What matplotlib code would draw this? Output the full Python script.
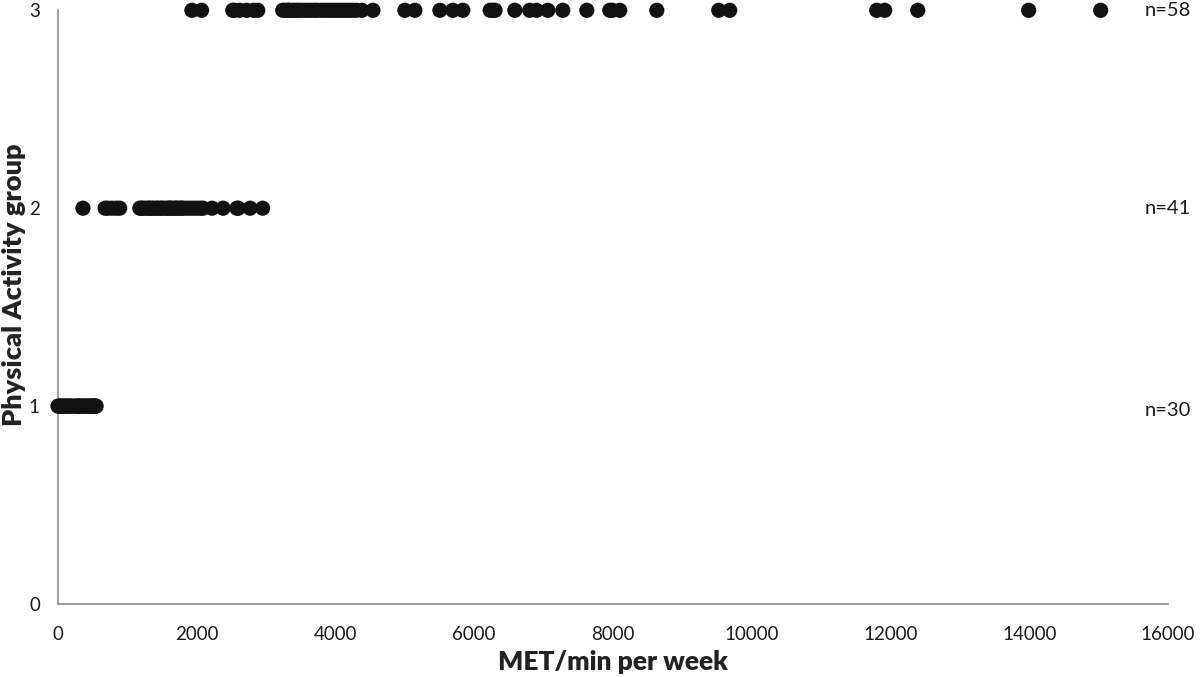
import numpy as np
import matplotlib
matplotlib.use("Agg")
import matplotlib.pyplot as plt

plt.rcParams['font.family'] = ['Lato', 'DejaVu Sans']

# MET/min per week for each participant, by physical activity group
group1_met = [0, 20, 40, 60, 80, 100, 120, 140, 160, 180, 200, 240, 260, 280, 300,
              320, 330, 360, 380, 400, 420, 440, 460, 480, 495, 510, 520, 530, 540, 550]
group2_met = [360, 680, 720, 780, 840, 890,
              1180, 1200, 1220, 1260, 1300, 1320, 1350, 1380, 1420, 1440, 1480, 1500,
              1540, 1580, 1600, 1620, 1640, 1680, 1700, 1720, 1760, 1780, 1800, 1850,
              1900, 1950, 2000, 2050, 2090, 2220, 2380, 2580, 2600, 2770, 2950]
group3_met = [1930, 2070, 2520, 2540, 2620, 2720, 2820, 2880,
              3240, 3280, 3320, 3330, 3380, 3420, 3460, 3500, 3550, 3600, 3650, 3700,
              3740, 3800, 3850, 3900, 3950, 4000, 4050, 4100, 4150, 4200, 4250, 4300,
              4380, 4540, 5000, 5145, 5505, 5692, 5836, 6230, 6268, 6300, 6585, 6800,
              6900, 7061, 7277, 7623, 7954, 7990, 8098, 8632, 9525, 9683, 11802, 11917,
              12393, 13992, 15030]
groups = [1, 2, 3]
group_labels = ["n=30", "n=41", "n=58"]

fig = plt.figure(figsize=(12, 6.77), dpi=100)
ax = fig.add_axes([0.0483, 0.1078, 0.925, 0.877])

for g, met in zip(groups, [group1_met, group2_met, group3_met]):
    ax.scatter(met, np.full(len(met), g), s=120, color="#111111", edgecolors="none",
               zorder=3, clip_on=False)

ax.set_xlim(0, 16000)
ax.set_ylim(0, 3)
ax.set_xticks(np.arange(0, 16001, 2000))
ax.set_yticks([0, 1, 2, 3])
ax.tick_params(length=0, labelsize=13.5, colors="#1a1a1a", pad=16)
ax.tick_params(axis="y", pad=13)

for side in ["top", "right"]:
    ax.spines[side].set_visible(False)
for side in ["left", "bottom"]:
    ax.spines[side].set_color("#8c8c8c")
    ax.spines[side].set_linewidth(1.2)

ax.set_xlabel("MET/min per week", fontsize=19, fontweight="heavy", color="#222222", labelpad=5)
ax.set_ylabel("Physical Activity group", fontsize=19.5, fontweight="heavy", color="#222222",
              va="center")
ax.yaxis.set_label_coords(-0.040, 0.537)

label_y = [0.98, 2.0, 3.0]
for y, lab in zip(label_y, group_labels):
    ax.text(0.979, y, lab, transform=ax.get_yaxis_transform(), fontsize=14.5,
            color="#1a1a1a", va="center", ha="left", clip_on=False)

fig.savefig("out.png", dpi=100)
